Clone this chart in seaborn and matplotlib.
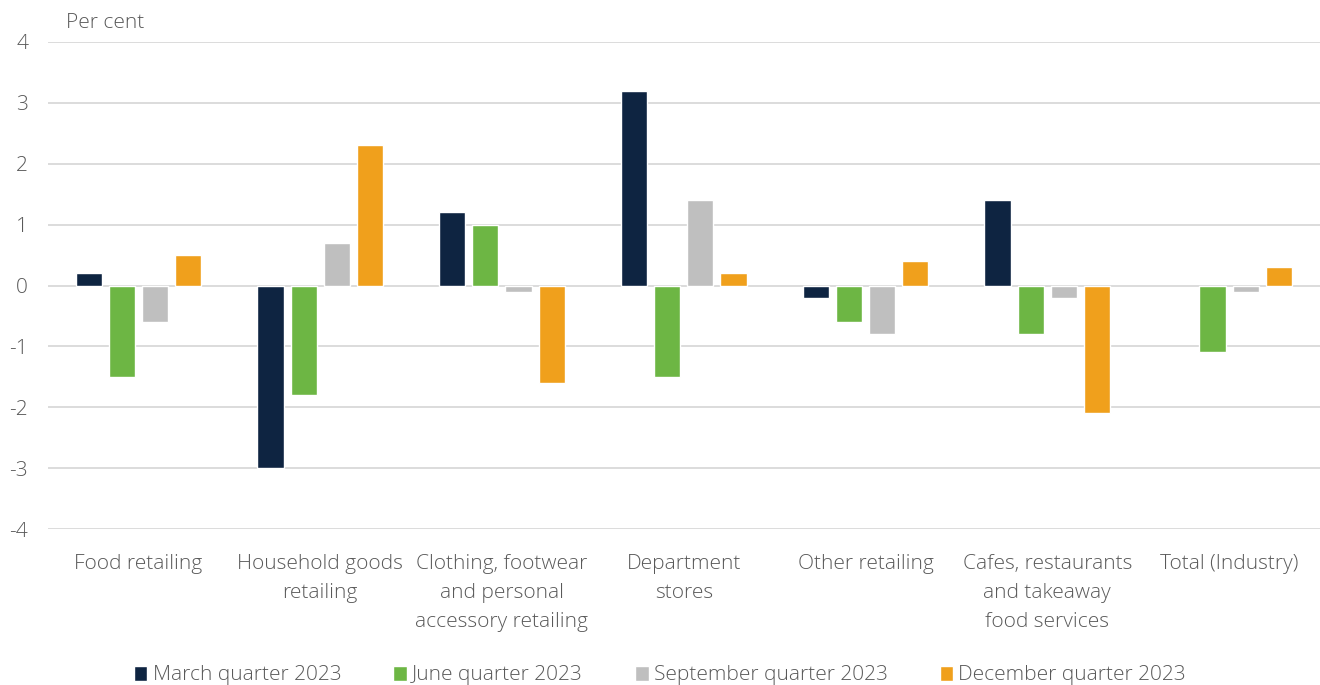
import numpy as np
import pandas as pd
import seaborn as sns
import matplotlib.pyplot as plt
from matplotlib.patches import Patch
from matplotlib.ticker import FuncFormatter

sns.set_theme(style="white")
plt.rcParams['font.family'] = ['Open Sans', 'DejaVu Sans']
plt.rcParams['font.weight'] = 'light'

# Data
categories = ["Food retailing", "Household goods\nretailing",
              "Clothing, footwear\nand personal\naccessory retailing",
              "Department\nstores", "Other retailing",
              "Cafes, restaurants\nand takeaway\nfood services",
              "Total (Industry)"]
quarters = ["March quarter 2023", "June quarter 2023",
            "September quarter 2023", "December quarter 2023"]
march = [0.2, -3.0, 1.2, 3.2, -0.2, 1.4, np.nan]
june = [-1.5, -1.8, 1.0, -1.5, -0.6, -0.8, -1.1]
september = [-0.6, 0.7, -0.1, 1.4, -0.8, -0.2, -0.1]
december = [0.5, 2.3, -1.6, 0.2, 0.4, -2.1, 0.3]
colors = ["#0E2441", "#6DB644", "#BFBFBF", "#F0A01C"]

rows = []
for q, vals in zip(quarters, [march, june, september, december]):
    for c, v in zip(categories, vals):
        rows.append({"category": c, "quarter": q, "value": v})
df = pd.DataFrame(rows).dropna()

fig = plt.figure(figsize=(13.2, 6.85), dpi=100)
ax = fig.add_axes([0.036, 0.2277, 0.964, 0.711])

sns.barplot(data=df, x="category", y="value", hue="quarter",
            order=categories, hue_order=quarters, palette=colors,
            width=0.73, gap=0.21, saturation=1, legend=False, ax=ax)

txt = "#595959"
fs = 15
ax.set_ylim(-4, 4)
ax.set_yticks(range(-4, 5))
ax.yaxis.set_major_formatter(FuncFormatter(lambda v, p: f"{v:g}"))
ax.set_xlim(-0.5, len(categories) - 0.5)
ax.grid(axis="y", color="#D9D9D9", linewidth=1.3)
ax.set_axisbelow(True)
for s in ax.spines.values():
    s.set_visible(False)
ax.set_xlabel("")
ax.set_ylabel("")
ax.tick_params(axis="y", length=0, pad=14, labelsize=fs, labelcolor=txt)
ax.tick_params(axis="x", length=0, pad=18, labelsize=fs, labelcolor=txt)
for lab in ax.get_xticklabels():
    lab.set_linespacing(1.6)
    lab.set_verticalalignment("top")

fig.text(0.05, 0.967, "Per cent", fontsize=fs, color=txt, va="center")

handles = [Patch(facecolor=c, label=q) for c, q in zip(colors, quarters)]
fig.legend(handles=handles, loc="lower center", bbox_to_anchor=(0.5, -0.028),
           ncol=4, frameon=False, fontsize=fs, labelcolor=txt,
           handlelength=0.65, handleheight=0.75, handletextpad=0.25,
           columnspacing=2.5)

plt.savefig("out.png", dpi=100)
